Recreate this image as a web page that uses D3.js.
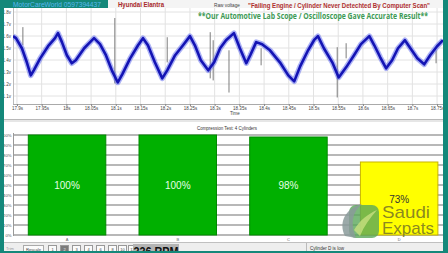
<!DOCTYPE html>
<html><head><meta charset="utf-8">
<script src="https://cdn.jsdelivr.net/npm/d3@7"></script>
<style>html,body{margin:0;padding:0;background:#fff;overflow:hidden}</style>
</head><body><svg id="c" width="448" height="253"></svg>
<script>
// ---------- DATA ----------
const timeTicks = [17.9,17.95,18,18.05,18.1,18.15,18.2,18.25,18.3,18.35,18.4,18.45,18.5,18.55,18.6,18.65,18.7,18.75];
const timeTickLabels = ["17.9s","17.95s","18s","18.05s","18.1s","18.15s","18.2s","18.25s","18.3s","18.35s","18.4s","18.45s","18.5s","18.55s","18.6s","18.65s","18.7s","18.75s"];
const voltTicks = [1.1,1.2,1.3,1.4,1.5,1.6,1.7,1.8];
const voltTickLabels = ["1.1v","1.2v","1.3v","1.4v","1.5v","1.6v","1.7v","1.8v"];
const waveTime = [17.892,17.898,17.910,17.920,17.928,17.934,17.947,17.963,17.977,17.983,17.991,18.001,18.011,18.019,18.036,18.048,18.056,18.068,18.080,18.092,18.104,18.113,18.129,18.145,18.155,18.165,18.179,18.194,18.204,18.220,18.236,18.250,18.260,18.272,18.287,18.299,18.311,18.323,18.339,18.351,18.364,18.372,18.384,18.396,18.412,18.432,18.449,18.461,18.473,18.489,18.501,18.509,18.521,18.538,18.551,18.566,18.582,18.596,18.613,18.623,18.635,18.647,18.659,18.671,18.685,18.696,18.710,18.724,18.736,18.750,18.762];
const waveVolt = [1.599,1.582,1.498,1.381,1.272,1.314,1.414,1.515,1.582,1.624,1.549,1.440,1.373,1.398,1.498,1.549,1.582,1.532,1.440,1.314,1.213,1.280,1.414,1.523,1.582,1.523,1.381,1.247,1.314,1.440,1.523,1.599,1.523,1.398,1.314,1.381,1.498,1.565,1.624,1.498,1.373,1.440,1.549,1.532,1.481,1.381,1.272,1.222,1.347,1.481,1.565,1.599,1.498,1.381,1.255,1.339,1.440,1.532,1.599,1.523,1.423,1.331,1.398,1.498,1.565,1.498,1.414,1.364,1.440,1.515,1.565];
const spikeTime = [17.912,18.098,18.204,18.291,18.297,18.329,18.394,18.548,18.566,18.748];
const spikeHigh = [1.674,1.750,1.590,1.632,1.565,1.481,1.498,1.507,1.540,1.481];
const spikeLow  = [1.523,1.205,1.380,1.247,1.230,1.129,1.356,1.088,1.414,1.373];

const cylinders = ["A","B","C","D"];
const compression = [100,100,98,73];
const pctTicks = [0,10,20,30,40,50,60,70,80,90,100];
const pctTickLabels = ["0%","10%","20%","30%","40%","50%","60%","70%","80%","90%","100%"];
const buttonLabels = ["1","2","3","4","6","8","10","12"];

// ---------- DRAW ----------
const svg = d3.select("#c");
const W = 448, H = 253;
const teal = "#14887a";
const FF = "Liberation Sans, Arial";
svg.append("rect").attr("width",W).attr("height",H).attr("fill","#ffffff");

// header strip
svg.append("rect").attr("x",0).attr("y",0).attr("width",W).attr("height",8).attr("fill","#f4f4f4");
svg.append("rect").attr("x",0).attr("y",0).attr("width",108).attr("height",8).attr("fill",teal);

svg.append("text").attr("x",13).attr("y",6.5).attr("font-family",FF).attr("font-size",8)
  .attr("fill","#5ab8f0").attr("textLength",88).attr("lengthAdjust","spacingAndGlyphs").text("MotorCareWorld 0597394437");
svg.append("text").attr("x",118).attr("y",7).attr("font-family",FF).attr("font-size",7).attr("font-weight","bold")
  .attr("fill","#a82828").attr("textLength",46).attr("lengthAdjust","spacingAndGlyphs").text("Hyundai Elantra");
svg.append("text").attr("x",214).attr("y",6.5).attr("font-family",FF).attr("font-size",5)
  .attr("fill","#444").attr("textLength",26).attr("lengthAdjust","spacingAndGlyphs").text("Raw voltage");
svg.append("text").attr("x",248).attr("y",7.5).attr("font-family",FF).attr("font-size",7).attr("font-weight","bold")
  .attr("fill","#b03030").attr("textLength",182).attr("lengthAdjust","spacingAndGlyphs").text("\"Failing Engine / Cylinder Never Detechted By Computer Scan\"");

// ---- scope plot ----
const x = d3.scaleLinear().domain([17.892,18.762]).range([13,443]);
const y = d3.scaleLinear().domain([1.0335,1.8335]).range([104,8]);
const g1 = svg.append("g");
g1.selectAll(".vg").data(timeTicks).join("line").attr("x1",d=>x(d)).attr("x2",d=>x(d)).attr("y1",8).attr("y2",104)
  .attr("stroke","#e2e2e2").attr("stroke-width",1);
g1.selectAll(".hg").data(voltTicks).join("line").attr("x1",13).attr("x2",443).attr("y1",d=>y(d)).attr("y2",d=>y(d))
  .attr("stroke","#e2e2e2").attr("stroke-width",1);
g1.append("line").attr("x1",13.5).attr("x2",13.5).attr("y1",8).attr("y2",104).attr("stroke","#bbb");
g1.append("line").attr("x1",13).attr("x2",443).attr("y1",104.5).attr("y2",104.5).attr("stroke","#aaa");

const yAx = d3.axisLeft(y).tickValues(voltTicks).tickFormat((d,i)=>voltTickLabels[i]).tickSize(0).tickPadding(2);
g1.append("g").attr("transform","translate(13,0)").call(yAx)
  .call(s=>s.select(".domain").remove())
  .call(s=>s.selectAll("text").attr("font-size",4.5).attr("font-family",FF).attr("fill","#444"));
const xAx = d3.axisBottom(x).tickValues(timeTicks).tickFormat((d,i)=>timeTickLabels[i]).tickSize(2).tickPadding(1);
g1.append("g").attr("transform","translate(0,104)").call(xAx)
  .call(s=>s.select(".domain").remove())
  .call(s=>s.selectAll("line").attr("stroke","#888"))
  .call(s=>s.selectAll("text").attr("font-size",4.5).attr("font-family",FF).attr("fill","#444"));
svg.append("text").attr("x",230).attr("y",115).attr("font-family",FF).attr("font-size",4.5).attr("fill","#444").text("Time");

// spikes
g1.selectAll(".sp").data(spikeTime).join("line")
  .attr("x1",d=>x(d)).attr("x2",d=>x(d)).attr("y1",(d,i)=>y(spikeHigh[i])).attr("y2",(d,i)=>y(spikeLow[i]))
  .attr("stroke","#6e6e6e").attr("stroke-width",0.9);

// waveform
const wave = waveTime.map((t,i)=>[t,waveVolt[i]]);
const line = d3.line().x(d=>x(d[0])).y(d=>y(d[1])).curve(d3.curveLinear);
svg.append("clipPath").attr("id","pc").append("rect").attr("x",13).attr("y",8).attr("width",430).attr("height",96);
g1.append("path").attr("d",line(wave)).attr("fill","none").attr("stroke","#5a66ee").attr("stroke-width",5.5).attr("stroke-opacity",0.5)
  .attr("stroke-linejoin","round").attr("clip-path","url(#pc)");
g1.append("path").attr("d",line(wave)).attr("fill","none").attr("stroke","#1414b4").attr("stroke-width",2.6)
  .attr("stroke-linejoin","round").attr("clip-path","url(#pc)");

svg.append("text").attr("x",198).attr("y",19).attr("font-family","Open Sans, Liberation Sans").attr("font-size",8).attr("font-weight","bold")
  .attr("fill","#3d9a55").attr("textLength",230).attr("lengthAdjust","spacingAndGlyphs")
  .text("**Our Automotive Lab Scope / Oscilloscope Gave Accurate Result**");

// separator
svg.append("rect").attr("x",0).attr("y",119).attr("width",W).attr("height",3).attr("fill","#e6e6e6");
svg.append("line").attr("x1",0).attr("x2",W).attr("y1",119.5).attr("y2",119.5).attr("stroke","#b8b8b8");

// ---- bar chart ----
svg.append("text").attr("x",227).attr("y",130).attr("text-anchor","middle").attr("font-family",FF).attr("font-size",5)
  .attr("fill","#333").attr("textLength",60).attr("lengthAdjust","spacingAndGlyphs").text("Compression Test: 4 Cylinders");
const yb = d3.scaleLinear().domain([0,100]).range([235,135]);
const xb = d3.scaleBand().domain(cylinders).range([11.7,454.5]).paddingInner(0.3).paddingOuter(0.15);
const g2 = svg.append("g");
g2.selectAll(".bg").data(pctTicks).join("line").attr("x1",13).attr("x2",443).attr("y1",d=>yb(d)).attr("y2",d=>yb(d))
  .attr("stroke","#a0a0a0").attr("stroke-width",1.4);
g2.append("line").attr("x1",13.5).attr("x2",13.5).attr("y1",133).attr("y2",236).attr("stroke","#999");
const ybAx = d3.axisLeft(yb).tickValues(pctTicks).tickFormat((d,i)=>pctTickLabels[i]).tickSize(0).tickPadding(1.5);
g2.append("g").attr("transform","translate(13,0)").call(ybAx)
  .call(s=>s.select(".domain").remove())
  .call(s=>s.selectAll("text").attr("font-size",4.2).attr("font-family",FF).attr("fill","#555"));

const barColor = v => v >= 80 ? "#00b000" : "#ffff00";
const barStroke = v => v >= 80 ? "#008a00" : "#c8b400";
g2.selectAll(".bar").data(cylinders).join("rect")
  .attr("x",d=>xb(d)).attr("width",xb.bandwidth())
  .attr("y",(d,i)=>yb(compression[i])).attr("height",(d,i)=>yb(0)-yb(compression[i]))
  .attr("fill",(d,i)=>barColor(compression[i])).attr("stroke",(d,i)=>barStroke(compression[i])).attr("stroke-width",1);
g2.selectAll(".bl").data(cylinders).join("text")
  .attr("x",d=>xb(d)+xb.bandwidth()/2)
  .attr("y",(d,i)=> compression[i] >= 80 ? 189 : 203)
  .attr("text-anchor","middle").attr("font-family",FF).attr("font-size",10)
  .attr("fill",(d,i)=> compression[i] >= 80 ? "#e6ffe6" : "#333")
  .text((d,i)=>compression[i]+"%");
g2.selectAll(".cl").data(cylinders).join("text")
  .attr("x",d=>xb(d)+xb.bandwidth()/2).attr("y",241).attr("text-anchor","middle")
  .attr("font-family",FF).attr("font-size",4).attr("fill","#666").text(d=>d);

// watermark
const wm = svg.append("g");
wm.append("rect").attr("x",349).attr("y",205).attr("width",30).attr("height",33).attr("rx",7)
  .attr("fill","#5aa85a").attr("fill-opacity",0.8);
wm.append("path").attr("d","M345,236 C338,222 346,208 362,204 C352,212 350,224 356,238 Z")
  .attr("fill","#8a9a9a").attr("fill-opacity",0.85);
wm.append("path").attr("d","M354,230 C360,220 368,214 377,210 C370,218 364,226 360,236 Z")
  .attr("fill","#c8e080").attr("fill-opacity",0.8);
wm.append("text").attr("x",382).attr("y",218).attr("font-family",FF).attr("font-size",17)
  .attr("fill","#7c7a24").attr("fill-opacity",0.9).attr("textLength",48).attr("lengthAdjust","spacingAndGlyphs").text("Saudi");
wm.append("text").attr("x",382).attr("y",234).attr("font-family",FF).attr("font-size",17)
  .attr("fill","#7c7a24").attr("fill-opacity",0.9).attr("textLength",52).attr("lengthAdjust","spacingAndGlyphs").text("Expats");

// ---- toolbar ----
svg.append("rect").attr("x",0).attr("y",242).attr("width",W).attr("height",11).attr("fill","#eeeeee");
svg.append("line").attr("x1",0).attr("x2",W).attr("y1",242.5).attr("y2",242.5).attr("stroke","#c0c0c0");
svg.append("text").attr("x",6).attr("y",250).attr("font-family",FF).attr("font-size",4).attr("fill","#999").text("Trim");
svg.append("rect").attr("x",23.5).attr("y",245.5).attr("width",20).attr("height",8).attr("fill","#fbfbfb").attr("stroke","#aaa");
svg.append("text").attr("x",33.5).attr("y",251).attr("text-anchor","middle").attr("font-family",FF).attr("font-size",4.2).attr("fill","#444").text("Rescale");
const tb = svg.append("g");
buttonLabels.forEach((b,i)=>{
  const bx = [48,60,72,84,96,108,118,128][i] - 0;
  tb.append("rect").attr("x",bx+0.5).attr("y",245.5).attr("width",8).attr("height",8)
    .attr("fill", i===1 ? "#7a7a7a" : "#fbfbfb").attr("stroke","#999");
  tb.append("text").attr("x",bx+4.5).attr("y",251).attr("text-anchor","middle").attr("font-family",FF)
    .attr("font-size",4).attr("fill", i===1 ? "#eee" : "#444").text(b);
});
svg.append("rect").attr("x",133).attr("y",244).attr("width",46).attr("height",9).attr("fill","#b4b4b4");
svg.append("text").attr("x",156).attr("y",255.5).attr("text-anchor","middle").attr("font-family",FF)
  .attr("font-size",13).attr("font-weight","bold").attr("fill","#111").attr("textLength",45).attr("lengthAdjust","spacingAndGlyphs").text("336 RPM");
svg.append("line").attr("x1",306.5).attr("x2",306.5).attr("y1",243).attr("y2",253).attr("stroke","#bbb");
svg.append("text").attr("x",310).attr("y",250).attr("font-family",FF).attr("font-size",4.5).attr("fill","#333")
  .attr("textLength",34).attr("lengthAdjust","spacingAndGlyphs").text("Cylinder D is low");

// ---- teal frame ----
svg.append("rect").attr("x",0).attr("y",0).attr("width",4).attr("height",H).attr("fill",teal);
svg.append("rect").attr("x",443).attr("y",0).attr("width",5).attr("height",H).attr("fill",teal);
svg.append("rect").attr("x",0).attr("y",251).attr("width",W).attr("height",2).attr("fill",teal);
</script></body></html>
